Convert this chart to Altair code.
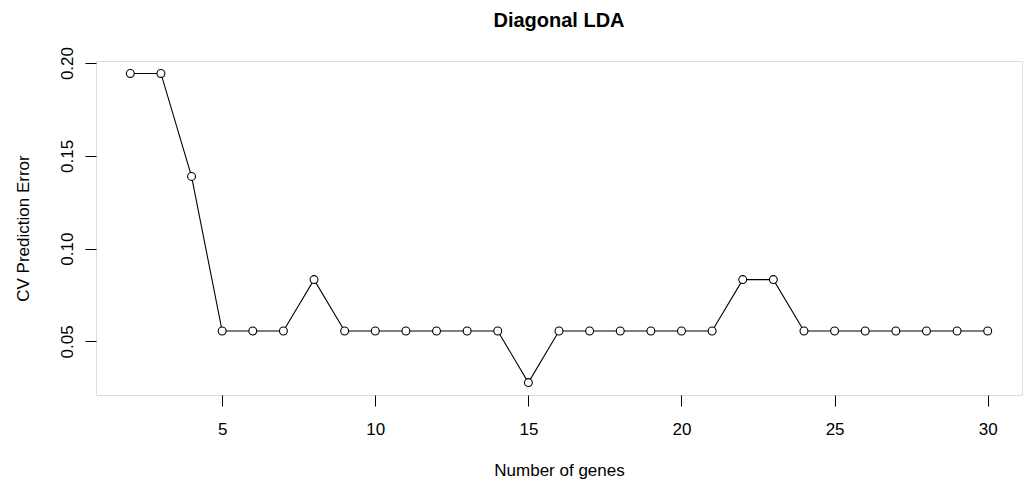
import altair as alt
import pandas as pd

genes = [2, 3, 4, 5, 6, 7, 8, 9, 10, 11, 12, 13, 14, 15, 16, 17, 18, 19, 20,
         21, 22, 23, 24, 25, 26, 27, 28, 29, 30]
cv_error = [0.1944, 0.1944, 0.1389, 0.0556, 0.0556, 0.0556, 0.0833, 0.0556,
            0.0556, 0.0556, 0.0556, 0.0556, 0.0556, 0.0278, 0.0556, 0.0556,
            0.0556, 0.0556, 0.0556, 0.0556, 0.0833, 0.0833, 0.0556, 0.0556,
            0.0556, 0.0556, 0.0556, 0.0556, 0.0556]
x_ticks = [5, 10, 15, 20, 25, 30]
y_ticks = [0.05, 0.10, 0.15, 0.20]

df = pd.DataFrame({"genes": genes, "err": cv_error})

FONT = "Liberation Sans"
W, H = 926, 334

x_enc = alt.X(
    "genes:Q",
    scale=alt.Scale(domain=[0.88, 31.12], nice=False, zero=False),
    axis=alt.Axis(
        title="Number of genes", values=x_ticks, grid=False, domain=False,
        tickSize=11, tickColor="black", labelPadding=15, labelFontSize=17,
        labelFont=FONT, labelColor="black", labelFlush=False,
        titleFont=FONT, titleFontSize=17, titleFontWeight="normal",
        titleColor="black", titleBaseline="alphabetic", titleX=W / 2,
        titleY=80, titleAnchor="middle",
    ),
)
y_enc = alt.Y(
    "err:Q",
    scale=alt.Scale(domain=[0.021111, 0.201111], nice=False, zero=False),
    axis=alt.Axis(
        title="CV Prediction Error", values=y_ticks, format=".2f", grid=False,
        domain=False, tickSize=11, tickColor="black", labelPadding=13,
        labelAngle=270, labelAlign="center", labelBaseline="alphabetic",
        labelFontSize=17, labelFont=FONT, labelColor="black", labelFlush=False,
        titleFont=FONT, titleFontSize=17, titleFontWeight="normal",
        titleColor="black", titleAngle=270, titleBaseline="alphabetic",
        titleAlign="center", titleX=-68, titleY=H / 2,
    ),
)

base = alt.Chart(df)
line = base.mark_line(color="black", strokeWidth=1.1).encode(x=x_enc, y=y_enc)
pts = base.mark_point(shape="circle", size=62, filled=True, fill="white",
                      stroke="black", strokeWidth=1.1, opacity=1).encode(
    x="genes:Q", y="err:Q")

chart = (
    alt.layer(line, pts)
    .properties(
        width=W, height=H,
        title=alt.TitleParams("Diagonal LDA", font=FONT, fontSize=20,
                              fontWeight="bold", color="black",
                              anchor="middle", baseline="bottom",
                              frame="group", offset=10, dy=14),
        autosize=alt.AutoSizeParams(type="none"),
        padding={"left": 96, "top": 61, "right": 1, "bottom": 87},
    )
    .configure_view(stroke="black", strokeWidth=1)
    .configure(background="white")
)

chart.save("out.html", embed_options={"renderer": "svg", "actions": False})
